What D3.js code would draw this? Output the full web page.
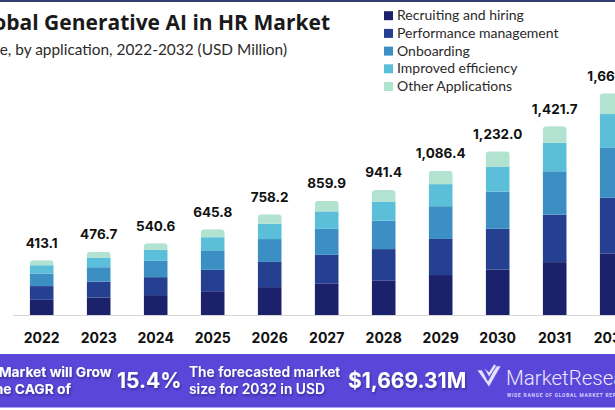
<!DOCTYPE html>
<html>
<head>
<meta charset="utf-8">
<script src="https://cdn.jsdelivr.net/npm/d3@7"></script>
<style>
  html, body { margin: 0; padding: 0; background: #fff; }
  svg { display: block; }
</style>
</head>
<body>
<svg id="chart" width="615" height="410"></svg>
<script>
// ---- data ----
const years = ["2022","2023","2024","2025","2026","2027","2028","2029","2030","2031","2032"];
const seriesNames = ["Recruiting and hiring","Performance management","Onboarding","Improved efficiency","Other Applications"];
const recruiting  = [114.4, 132.0, 149.7, 178.9, 210.0, 238.2, 260.8, 300.9, 341.3, 398.0, 464.0];
const performance = [103.3, 119.2, 135.2, 161.5, 189.6, 215.0, 235.4, 271.6, 308.0, 357.0, 419.0];
const onboarding  = [ 93.8, 108.2, 122.7, 146.6, 172.1, 195.2, 213.7, 246.6, 279.7, 327.0, 379.0];
const improved    = [ 63.2,  72.9,  82.7,  98.8, 116.0, 131.6, 144.0, 166.2, 188.5, 214.0, 251.0];
const other       = [ 38.4,  44.4,  50.3,  60.0,  70.5,  79.9,  87.5, 101.1, 114.5, 125.7, 156.3];
const totals      = [413.1, 476.7, 540.6, 645.8, 758.2, 859.9, 941.4, 1086.4, 1232.0, 1421.7, 1669.3];
const colors = ["#1b216b", "#253f91", "#3b8fc3", "#5cbfd9", "#b2e2d0"];

const svg = d3.select("#chart");

// top border
svg.append("rect").attr("x", 0).attr("y", 0).attr("width", 615).attr("height", 2).attr("fill", "#343d70");

// title (cropped at left in the original)
svg.append("text").attr("x", 330).attr("y", 30).attr("text-anchor", "end")
  .attr("font-family", "Open Sans").attr("font-weight", 700).attr("font-size", 21)
  .attr("fill", "#1a1a1a").text("Global Generative AI in HR Market");
svg.append("text").attr("x", 287).attr("y", 55).attr("text-anchor", "end")
  .attr("font-family", "Lato").attr("font-size", 15.4)
  .attr("fill", "#2b2b2b").text("Size, by application, 2022-2032 (USD Million)");

// legend
const legend = svg.append("g");
seriesNames.forEach((name, i) => {
  const cy = 15.7 + i * 17.7;
  legend.append("rect").attr("x", 384).attr("y", cy - 4.5).attr("width", 9).attr("height", 9).attr("fill", colors[i]);
  legend.append("text").attr("x", 397).attr("y", cy + 4.5)
    .attr("font-family", "Lato").attr("font-size", 14).attr("fill", "#2b2b2b").text(name);
});

// scales
const x = d3.scalePoint().domain(years).range([41.7, 611.7]);
const y = d3.scaleLinear().domain([0, 1694]).range([315, 90]);
const barW = 24;

// axis baseline
svg.append("line").attr("x1", 13).attr("x2", 615).attr("y1", 315.5).attr("y2", 315.5)
  .attr("stroke", "#d6d6d6").attr("stroke-width", 1);

const seriesArrays = [recruiting, performance, onboarding, improved, other];
const rows = years.map((yr, i) => {
  const r = { year: yr };
  seriesNames.forEach((n, k) => r[n] = seriesArrays[k][i]);
  return r;
});
const stacked = d3.stack().keys(seriesNames)(rows);

const defs = svg.append("defs");
years.forEach((yr, i) => {
  const top = y(d3.sum(seriesArrays, a => a[i]));
  defs.append("clipPath").attr("id", "clip" + i)
    .append("rect").attr("x", x(yr) - barW / 2).attr("y", top)
    .attr("width", barW).attr("height", y(0) - top + 6).attr("rx", 4);
});

const bars = svg.append("g");
stacked.forEach((layer, k) => {
  bars.selectAll(null).data(layer).enter().append("rect")
    .attr("clip-path", (d, i) => `url(#clip${i})`)
    .attr("x", d => x(d.data.year) - barW / 2)
    .attr("y", d => y(d[1]))
    .attr("width", barW)
    .attr("height", d => y(d[0]) - y(d[1]))
    .attr("fill", colors[k]);
});

// value labels
const fmt = d3.format(",.1f");
svg.append("g").selectAll("text").data(years).enter().append("text")
  .attr("x", d => x(d))
  .attr("y", (d, i) => y(totals[i]) - 12.5)
  .attr("text-anchor", "middle")
  .attr("font-family", "Inter").attr("font-weight", 700).attr("font-size", 13.5)
  .attr("fill", "#111").text((d, i) => fmt(totals[i]));

// x axis labels
svg.append("g").selectAll("text").data(years).enter().append("text")
  .attr("x", d => x(d)).attr("y", 343)
  .attr("text-anchor", "middle")
  .attr("font-family", "Inter").attr("font-weight", 700).attr("font-size", 14)
  .attr("fill", "#111").text(d => d);

// banner
const shadow = defs.append("filter").attr("id", "ts").attr("x", "-10%").attr("y", "-20%").attr("width", "130%").attr("height", "160%");
shadow.append("feDropShadow").attr("dx", 1).attr("dy", 1.5).attr("stdDeviation", 1.2)
  .attr("flood-color", "#1a0f5a").attr("flood-opacity", 0.55);

svg.append("rect").attr("x", 0).attr("y", 354).attr("width", 615).attr("height", 53.5).attr("fill", "#5a47d9");

const banner = svg.append("g").attr("fill", "#fff").attr("filter", "url(#ts)");
banner.append("text").attr("x", 111.5).attr("y", 376.5).attr("text-anchor", "end")
  .attr("font-family", "Inter").attr("font-weight", 700).attr("font-size", 13.8).text("The Market will Grow");
banner.append("text").attr("x", 71).attr("y", 393.5).attr("text-anchor", "end")
  .attr("font-family", "Inter").attr("font-weight", 700).attr("font-size", 13.8).text("At the CAGR of");
banner.append("text").attr("x", 117).attr("y", 388)
  .attr("font-family", "Inter").attr("font-weight", 700).attr("font-size", 21).text("15.4%");
banner.append("text").attr("x", 189).attr("y", 376.5)
  .attr("font-family", "Inter").attr("font-weight", 600).attr("font-size", 13.8).text("The forecasted market");
banner.append("text").attr("x", 189).attr("y", 393.5)
  .attr("font-family", "Inter").attr("font-weight", 600).attr("font-size", 13.8).text("size for 2032 in USD");
banner.append("text").attr("x", 348).attr("y", 388)
  .attr("font-family", "Inter").attr("font-weight", 700).attr("font-size", 21).text("$1,669.31M");

// logo
const logo = svg.append("g");
logo.append("path")
  .attr("d", "M477,370 L482,370 L488,381 L496,366 L501,366 L489,387 Z M484,368 L489,372 L494,364 L497,366 L489,377 Z")
  .attr("fill", "#e6e1ff").attr("stroke", "#5a47d9").attr("stroke-width", 0.6);
logo.append("text").attr("x", 506).attr("y", 385)
  .attr("font-family", "Roboto").attr("font-weight", 300).attr("font-size", 20.5)
  .attr("fill", "#ece8ff").text("MarketResearch");
logo.append("text").attr("x", 507).attr("y", 396.5)
  .attr("font-family", "Roboto").attr("font-weight", 700).attr("font-size", 4.8)
  .attr("letter-spacing", 0.8).attr("fill", "#d8d2ff").text("WIDE RANGE OF GLOBAL MARKET REPORTS");
</script>
</body>
</html>
